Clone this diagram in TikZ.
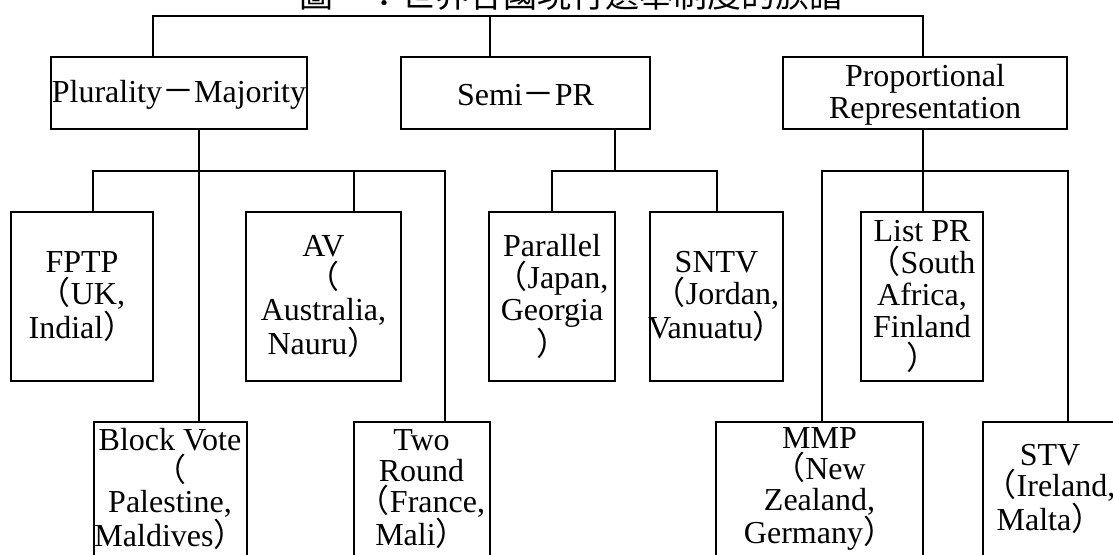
\documentclass[tikz,border=0pt]{standalone}
\usepackage{fontspec}
\setmainfont{Liberation Serif}
\newfontfamily\cjk{Noto Sans CJK TC}
\newcommand\lpar{{\cjk （}}
\newcommand\rpar{{\cjk ）}}
\newcommand\fwdash{{\cjk －}}
\begin{document}
\begin{tikzpicture}[x=1pt,y=-1pt,
  box/.style={draw, line width=2pt, inner sep=0pt},
  txt/.style={align=center, inner sep=0pt, font=\fontsize{32}{32}\selectfont},
  txtlow/.style={txt, font=\fontsize{32}{31}\selectfont},
  link/.style={line width=2pt}]
\useasboundingbox (0,0) rectangle (1113,554);
\clip (0,0) rectangle (1113,554);
% title (mostly cut off at top)
\node[anchor=base, inner sep=0pt, font=\cjk\fontsize{34}{34}\selectfont] (title) at (571,7) {圖一：世界各國現行選舉制度的族譜};
% level 1
\node[box, minimum width=256pt, minimum height=72pt] (plur) at (179,93) {};
\node[box, minimum width=249pt, minimum height=72pt] (semi) at (525.5,93) {};
\node[box, minimum width=284pt, minimum height=72pt] (prop) at (925,93) {};
\node[txt] (plurT) at ([yshift=-2pt]plur.center) {Plurality\fwdash Majority};
\node[txt] (semiT) at ([yshift=-2pt]semi.center) {Semi\fwdash PR};
\node[txt] (propT) at ([yshift=-2pt]prop.center) {Proportional\\Representation};
% level 2
\node[box, minimum width=142pt, minimum height=169pt] (fptp) at (82,296.5) {};
\node[box, minimum width=155pt, minimum height=169pt] (av) at (323.5,296.5) {};
\node[box, minimum width=126pt, minimum height=169pt] (par) at (552,296.5) {};
\node[box, minimum width=133pt, minimum height=169pt] (sntv) at (716.5,296.5) {};
\node[box, minimum width=122pt, minimum height=169pt] (list) at (922,296.5) {};
\node[txt] (fptpT) at (fptp.center) {FPTP\\\lpar UK,\\Indial\rpar};
\node[txt] (avT) at (av.center) {AV\\\lpar\\Australia,\\Nauru\rpar};
\node[txt] (parT) at (par.center) {Parallel\\\lpar Japan,\\Georgia\\\rpar};
\node[txt] (sntvT) at (sntv.center) {SNTV\\\lpar Jordan,\\Vanuatu\rpar};
\node[txt] (listT) at (list.center) {List PR\\\lpar South\\Africa,\\Finland\\\rpar};
% level 3
\node[box, minimum width=153pt, minimum height=136pt] (block) at (170,490) {};
\node[box, minimum width=136pt, minimum height=136pt] (two) at (421.5,490) {};
\node[box, minimum width=207pt, minimum height=136pt] (mmp) at (819.5,490) {};
\node[box, minimum width=134pt, minimum height=136pt] (stv) at (1050,490) {};
\node[txtlow] (blockT) at ([yshift=1pt]block.center) {Block Vote\\\lpar\\Palestine,\\Maldives\rpar};
\node[txtlow] (twoT) at ([yshift=1pt]two.center) {Two\\Round\\\lpar France,\\Mali\rpar};
\node[txtlow] (mmpT) at ([yshift=1pt]mmp.center) {MMP\\\lpar New\\Zealand,\\Germany\rpar};
\node[txtlow] (stvT) at ([yshift=1pt]stv.center) {STV\\\lpar Ireland,\\Malta\rpar};
% top bus
\coordinate (tl) at (153,16);
\coordinate (tm) at (490,16);
\coordinate (tr) at (923,16);
\draw[link] (plur.north -| tl) -- (tl) -- (tr) -- (prop.north -| tr);
\draw[link] (tm) -- (semi.north -| tm);
% plurality bus
\coordinate (p0) at (199,171);
\coordinate (p1) at (93,171);
\coordinate (p3) at (354,171);
\coordinate (p4) at (445,171);
\draw[link] (fptp.north -| p1) -- (p1) -- (p4) -- (two.north -| p4);
\draw[link] (plur.south -| p0) -- (block.north -| p0);
\draw[link] (p3) -- (av.north -| p3);
% semi bus
\coordinate (s0) at (615,171);
\coordinate (s1) at (552,171);
\coordinate (s2) at (716.5,171);
\draw[link] (semi.south -| s0) -- (s0);
\draw[link] (par.north) -- (s1) -- (s2) -- (sntv.north);
% PR bus
\coordinate (r0) at (923,171);
\coordinate (r1) at (822,171);
\coordinate (r2) at (1068,171);
\draw[link] (prop.south -| r0) -- (list.north -| r0);
\draw[link] (mmp.north -| r1) -- (r1) -- (r2) -- (stv.north -| r2);
\end{tikzpicture}
\end{document}
